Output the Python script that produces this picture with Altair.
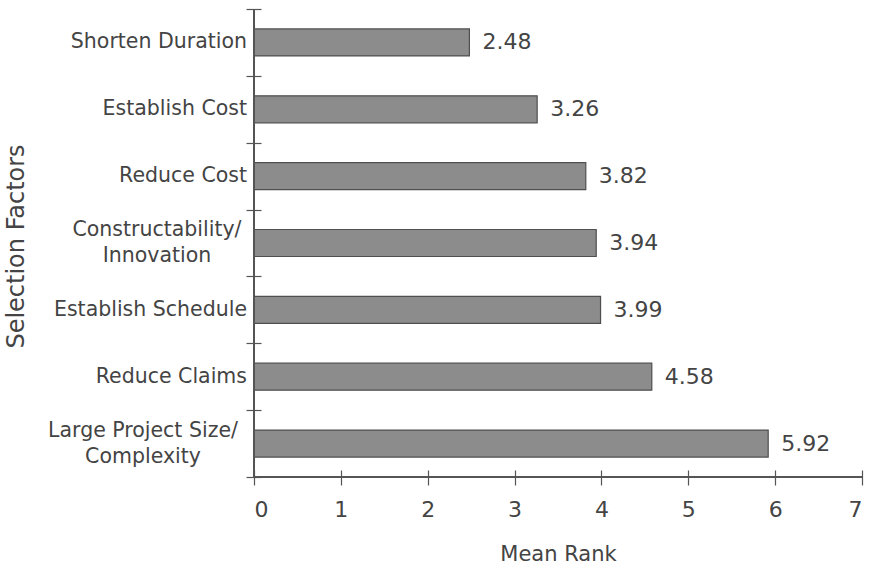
import altair as alt
import pandas as pd

# Selection factors, ranked top to bottom, with their mean rank
factors = [
    "Shorten Duration",
    "Establish Cost",
    "Reduce Cost",
    "Constructability/\nInnovation",
    "Establish Schedule",
    "Reduce Claims",
    "Large Project Size/\nComplexity",
]
mean_rank = [2.48, 3.26, 3.82, 3.94, 3.99, 4.58, 5.92]
x_ticks = [0, 1, 2, 3, 4, 5, 6, 7]

df = pd.DataFrame({"factor": factors, "rank": mean_rank})

FONT = "DejaVu Sans"
INK = "#444444"
AXIS = "#555555"
W, H = 608, 468
LABEL_SIZE = 20.5
LINE_H = 26

y_enc = alt.Y(
    "factor:N",
    sort=factors,
    scale=alt.Scale(paddingInner=0, paddingOuter=0),
    axis=alt.Axis(
        title="Selection Factors",
        titleFontSize=24,
        titleFont=FONT,
        titleColor=INK,
        titleFontWeight="normal",
        titleAngle=270,
        titleAlign="center",
        titleBaseline="alphabetic",
        titleX=-238,
        titleY=H / 2 + 3,
        labels=False,
        tickBand="extent",
        tickSize=15,
        tickColor=AXIS,
        tickWidth=1.2,
        offset=-7,
        domain=False,
        grid=False,
    ),
)

x_enc = alt.X(
    "rank:Q",
    scale=alt.Scale(domain=[0, 7], nice=False),
    axis=alt.Axis(
        values=x_ticks,
        format="d",
        title="Mean Rank",
        titleFontSize=21,
        titleFont=FONT,
        titleColor=INK,
        titleFontWeight="normal",
        titlePadding=23,
        labelFont=FONT,
        labelFontSize=22,
        labelColor=INK,
        labelPadding=14,
        tickSize=15,
        tickColor=AXIS,
        tickWidth=1.2,
        offset=-7,
        domain=False,
        grid=False,
    ),
)

bars = alt.Chart(df).mark_bar(
    height={"band": 0.404},
    color="#8c8c8c",
    stroke="#4f4f4f",
    strokeWidth=1.2,
).encode(x=x_enc, y=y_enc)

values = alt.Chart(df).mark_text(
    align="left", baseline="middle", dx=13, fontSize=22, font=FONT, color=INK
).encode(
    x=alt.X("rank:Q"),
    y=alt.Y("factor:N", sort=factors),
    text=alt.Text("rank:Q", format=".2f"),
)

# category names beside the axis
name_style = dict(
    baseline="middle", fontSize=LABEL_SIZE, font=FONT,
    color=INK, lineBreak="\n", lineHeight=LINE_H,
)
one_line = alt.Chart(df).transform_filter(
    "indexof(datum.factor, '\\n') < 0"
).mark_text(align="right", **name_style).encode(
    x=alt.value(-7),
    y=alt.Y("factor:N", sort=factors),
    text="factor:N",
)


def two_line(name, centre):
    # a two-line name, each line centred on the same x
    return alt.Chart(df).transform_filter(
        alt.datum.factor == name
    ).mark_text(align="center", dy=-LINE_H / 2, **name_style).encode(
        x=alt.value(centre),
        y=alt.Y("factor:N", sort=factors),
        text="factor:N",
    )


constr = two_line(factors[3], -97)
large = two_line(factors[6], -111)

# axis lines
y_line = alt.Chart(df).mark_rule(color=AXIS, strokeWidth=1.2).encode(
    x=alt.datum(0)
)
x_line = alt.Chart(df).mark_rule(color=AXIS, strokeWidth=1.2).encode(
    y=alt.value(H)
)

chart = (
    alt.layer(bars, values, one_line, constr, large, y_line, x_line)
    .properties(
        width=W,
        height=H,
        padding={"left": 254, "top": 9, "right": 17, "bottom": 89},
        autosize=alt.AutoSizeParams(type="none"),
        background="white",
    )
    .configure_view(stroke=None)
)

chart.save("out.html", embed_options={"renderer": "svg", "actions": False})
